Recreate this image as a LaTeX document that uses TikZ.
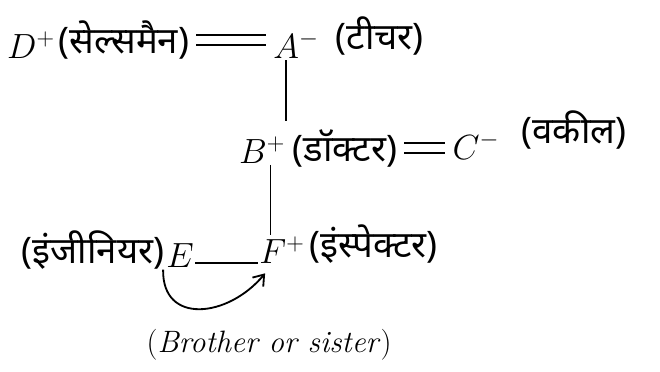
\documentclass[tikz,border=0pt]{standalone}
\usepackage{fontspec}
\newfontfamily\hindifont[Script=Devanagari]{Noto Sans}
\usetikzlibrary{arrows.meta}

\begin{document}
\begin{tikzpicture}[x=0.025cm, y=-0.025cm,
    every node/.style={font=\fontsize{26}{30}\selectfont, inner sep=1pt},
    hindi/.style={font=\hindifont\fontsize{26}{30}\selectfont},
    wed/.style={double, double distance=5pt, line width=1.6pt, shorten <=4pt, shorten >=4pt},
    kin/.style={line width=1.3pt}]
  \useasboundingbox (0,0) rectangle (660,372);
  % couples
  \node (D) at (31,45) {$D^{+}$};
  \node[hindi, anchor=west] (Djob) at (57,40) {(सेल्समैन)};
  \node (A) at (296,45) {$A^{-}$};
  \node[hindi, anchor=west] (Ajob) at (334,36) {(टीचर)};
  \node (B) at (262,150) {$B^{+}$};
  \node[hindi, anchor=west] (Bjob) at (291,148) {(डॉक्टर)};
  \node (C) at (476,146) {$C^{-}$};
  \node[hindi, anchor=west] (Cjob) at (520,130) {(वकील)};
  % children
  \node (E) at (180,256) {$E$};
  \node[hindi, anchor=east] (Ejob) at (166,250) {(इंजीनियर)};
  \node (F) at (282,250) {$F^{+}$};
  \node[hindi, anchor=west] (Fjob) at (308,244) {(इंस्पेक्टर)};
  \node[anchor=west, font=\fontsize{22}{26}\selectfont] (note) at (145,345) {(\textit{Brother or sister})};
  % links
  \draw[wed] (Djob.east) -- (Djob.east -| A.west);
  \draw[wed] (Bjob.east) -- (Bjob.east -| C.west);
  \draw[kin] ([xshift=-7pt]A.south) -- ([xshift=-7pt, yshift=10pt]A.south |- B.north);
  \draw[kin] ([xshift=6pt]B.south) -- ([xshift=6pt]B.south |- F.north);
  \draw[kin] ([yshift=-5pt]E.east) -- ([yshift=-5pt]E.east -| F.west);
  \draw[kin, -{Straight Barb[length=7pt, width=10pt]}]
    ([xshift=-12pt]E.south) .. controls (162,325) and (228,318) .. ([xshift=-12pt, yshift=-6pt]F.south);
\end{tikzpicture}
\end{document}
